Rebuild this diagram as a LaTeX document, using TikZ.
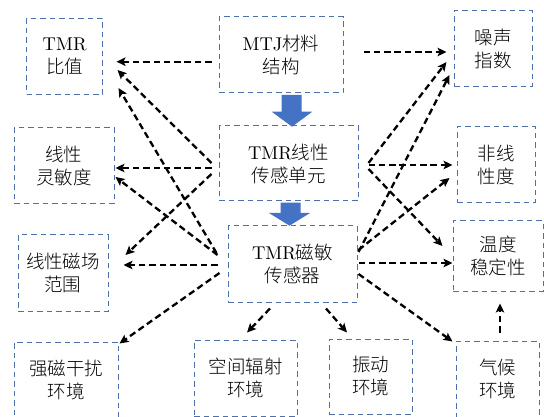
\documentclass[tikz,border=0pt]{standalone}
\usepackage{fontspec}
\setmainfont{lmroman10-regular}[Extension=.otf]
\newfontfamily\cjk{Noto Sans CJK SC}[UprightFont={* Light}]
\usetikzlibrary{arrows.meta,calc}
\definecolor{boxblue}{RGB}{78,112,168}
\definecolor{fillblue}{RGB}{68,114,196}
\begin{document}
\begin{tikzpicture}[x=1pt,y=-1pt,
  box/.style={draw=boxblue, line width=1pt, dash pattern=on 5.5pt off 4pt, align=center, inner sep=0pt, font=\fontsize{18.5}{23}\selectfont},
  conn/.style={draw=black, line width=2.3pt, dash pattern=on 6.5pt off 3.8pt, -{Stealth[length=9pt,width=8.5pt,inset=2pt]}},
  bigarrow/.style={fill=fillblue, draw=none}
]
\useasboundingbox (0,0) rectangle (544,417);

\node[box, minimum width=76pt, minimum height=76pt] (bizhi) at (64.7,56.3) {TMR\\{\cjk 比值}};
\node[box, minimum width=124pt, minimum height=76pt] (mtj) at (281,55) {MTJ{\cjk 材料}\\{\cjk 结构}};
\node[box, minimum width=78pt, minimum height=76pt] (noise) at (493,49) {{\cjk 噪声}\\{\cjk 指数}};
\node[box, minimum width=100pt, minimum height=76pt] (lins) at (64,166) {{\cjk 线性}\\{\cjk 灵敏度}};
\node[box, minimum width=139pt, minimum height=75pt] (tmrl) at (288.5,163.5) {TMR{\cjk 线性}\\{\cjk 传感单元}};
\node[box, minimum width=78pt, minimum height=76pt] (nonlin) at (496,165) {{\cjk 非线}\\{\cjk 性度}};
\node[box, minimum width=90pt, minimum height=76pt] (range) at (63,273) {{\cjk 线性磁场}\\{\cjk 范围}};
\node[box, minimum width=129pt, minimum height=76pt] (tmrs) at (292.5,264) {TMR{\cjk 磁敏}\\{\cjk 传感器}};
\node[box, minimum width=90pt, minimum height=70pt] (temp) at (498,256) {{\cjk 温度}\\{\cjk 稳定性}};
\node[box, minimum width=104pt, minimum height=76pt] (qiang) at (66,380) {{\cjk 强磁干扰}\\{\cjk 环境}};
\node[box, minimum width=103pt, minimum height=76pt] (space) at (245.5,378) {{\cjk 空间辐射}\\{\cjk 环境}};
\node[box, minimum width=83pt, minimum height=75pt] (vib) at (370.5,376.5) {{\cjk 振动}\\{\cjk 环境}};
\node[box, minimum width=83pt, minimum height=76pt] (climate) at (497.5,379) {{\cjk 气候}\\{\cjk 环境}};

% big blue arrows
\fill[bigarrow] (281.7,95) -- (301.7,95) -- (301.7,111.7) -- (312.3,111.7) -- (292,126.7) -- (271.7,111.7) -- (281.7,111.7) -- cycle;
\fill[bigarrow] (280.7,202.7) -- (300.7,202.7) -- (300.7,213) -- (310,213) -- (289.5,225.7) -- (269,213) -- (280.7,213) -- cycle;

% left connectors
\draw[conn] ($(mtj.west)+(-7,6.7)$) -- ($(bizhi.east)+(13.3,5.4)$);
\draw[conn] ($(tmrl.west)+(-7,-0.5)$) -- ($(bizhi.east)+(14.3,13.7)$);
\draw[conn] ($(tmrs.west)+(-11,-11)$) -- ($(bizhi.east)+(15.3,31.7)$);
\draw[conn] ($(tmrl.west)+(-7,4.5)$) -- ($(lins.east)+(1,2)$);
\draw[conn] ($(tmrs.west)+(-10,-9)$) -- ($(lins.east)+(1,11)$);
\draw[conn] ($(tmrl.west)+(-7,10.5)$) -- ($(range.east)+(17,-18)$);
\draw[conn] ($(tmrs.west)+(-10,1)$) -- ($(range.east)+(15,-8)$);
\draw[conn] ($(tmrs.west)+(-8,9)$) -- ($(qiang.north east)+(1,2)$);

% right connectors
\draw[conn] ($(mtj.east)+(20,-3)$) -- ($(noise.west)+(-7,3)$);
\draw[conn] ($(tmrl.east)+(10,-0.5)$) -- ($(noise.west)+(-7,13)$);
\draw[conn] ($(tmrs.east)+(1,-12)$) -- ($(noise.west)+(-4,26)$);
\draw[conn] ($(tmrl.east)+(10,1.5)$) -- ($(nonlin.west)+(-4,0)$);
\draw[conn] ($(tmrs.east)+(1,-14)$) -- ($(nonlin.west)+(-7,13)$);
\draw[conn] ($(tmrl.east)+(10,5.5)$) -- ($(temp.west)+(-10,-10)$);
\draw[conn] ($(tmrs.east)+(1,-1)$) -- ($(temp.west)+(0,7)$);
\draw[conn] ($(tmrs.east)+(1,10)$) -- ($(climate.north west)+(-3,1)$);

% bottom connectors
\draw[conn] ($(tmrs.south)+(-22.5,6)$) -- ($(space.north)+(1.5,-7)$);
\draw[conn] ($(tmrs.south)+(33.5,6)$) -- ($(vib.north)+(-23.5,-6)$);
\draw[conn] ($(climate.north)+(2.5,-8)$) -- ($(temp.south)+(2,12)$);
\end{tikzpicture}
\end{document}
